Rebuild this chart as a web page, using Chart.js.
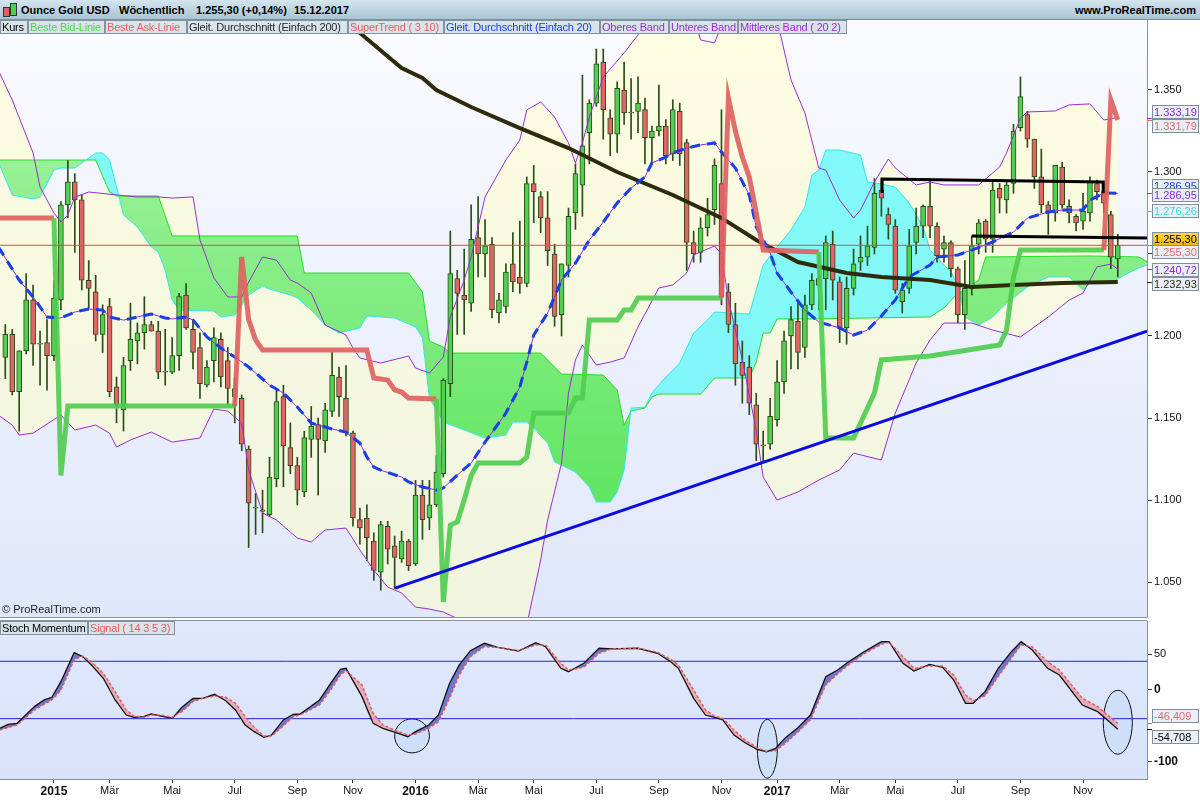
<!DOCTYPE html>
<html>
<head>
<meta charset="utf-8">
<script src="https://cdn.jsdelivr.net/npm/chart.js@4.4.0/dist/chart.umd.min.js"></script>
<style>
  body { margin: 0; width: 1200px; height: 800px; overflow: hidden; background: #fff; position: relative;
         font-family: "Liberation Sans", Arial, sans-serif; }
  #hdr { position: absolute; left: 0; top: 0; width: 1200px; height: 19px; border-bottom: 1px solid #7c8d98;
         background: linear-gradient(#d4e5ee, #a8c5d4); font-weight: bold; font-size: 11px; color: #000; }
  #hdr span { position: absolute; top: 4px; white-space: nowrap; }
  .ic { position: absolute; top: 3px; width: 5px; border: 1px solid #333; }
  .lg { position: absolute; height: 14px; line-height: 12px; font-size: 11px; letter-spacing: -0.2px; padding-left: 1px;
        box-sizing: border-box; border: 1px solid #83939e; background: rgba(214, 226, 233, 0.95);
        white-space: nowrap; overflow: hidden; }
  canvas { position: absolute; left: 0; }
  .hl { position: absolute; left: 0; width: 1147px; height: 1px; background: #8494a0; }
  #copy { position: absolute; left: 2px; top: 603px; font-size: 11px; color: #222; }
</style>
</head>
<body>
<div id="hdr">
  <div class="ic" style="left:3px;height:8px;top:7px;background:#e06060"></div>
  <div class="ic" style="left:10px;height:11px;top:3px;background:#4fd04f"></div>
  <span style="left:21px">Ounce Gold USD</span>
  <span style="left:119px">Wöchentlich</span>
  <span style="left:196px">1.255,30 (+0,14%)</span>
  <span style="left:294px">15.12.2017</span>
  <span style="right:4px">www.ProRealTime.com</span>
</div>
<canvas id="main" width="1200" height="598" style="top:20px"></canvas>
<div class="hl" style="top:617px"></div>
<div class="hl" style="top:620px"></div>
<canvas id="lower" width="1200" height="182" style="top:618px"></canvas>
<div id="copy">© ProRealTime.com</div>

<div class="lg" style="left:0;top:20px;width:28px;color:#000">Kurs</div>
<div class="lg" style="left:28px;top:20px;width:77px;color:#4fd94f">Beste Bid-Linie</div>
<div class="lg" style="left:105px;top:20px;width:82px;color:#e86060">Beste Ask-Linie</div>
<div class="lg" style="left:187px;top:20px;width:161px;color:#2a2a2a">Gleit. Durchschnitt (Einfach 200)</div>
<div class="lg" style="left:348px;top:20px;width:96px;color:#e86060">SuperTrend ( 3 10)</div>
<div class="lg" style="left:444px;top:20px;width:156px;color:#1b3fe6">Gleit. Durchschnitt (Einfach 20)</div>
<div class="lg" style="left:600px;top:20px;width:69px;color:#9a2fd0">Oberes Band</div>
<div class="lg" style="left:669px;top:20px;width:69px;color:#9a2fd0">Unteres Band</div>
<div class="lg" style="left:738px;top:20px;width:109px;color:#9a2fd0">Mittleres Band ( 20 2)</div>
<div class="lg" style="left:0;top:621px;width:88px;color:#000">Stoch Momentum</div>
<div class="lg" style="left:88px;top:621px;width:87px;color:#e86060">Signal ( 14 3 5 3)</div>

<script>
// weekly candles, week 0 = week of 17.11.2014
const opens = [1187,1201,1166,1191,1222,1195,1196,1188,1222,1280,
  1294,1283,1234,1227,1201,1218,1169,1155,1185,1197,
  1202,1207,1203,1178,1178,1188,1225,1204,1193,1170,
  1185,1198,1185,1168,1162,1131,1095,1093,1091,1113,
  1163,1132,1121,1105,1137,1146,1136,1154,1175,1162,
  1141,1088,1089,1075,1056,1084,1072,1064,1075,1061,
  1103,1089,1097,1116,1171,1235,1225,1220,1260,1250,
  1256,1214,1218,1244,1236,1232,1293,1285,1272,1250,
  1213,1243,1275,1292,1324,1342,1367,1333,1323,1350,
  1336,1337,1338,1321,1325,1328,1311,1337,1318,1257,
  1251,1266,1277,1293,1227,1207,1184,1181,1158,1133,
  1134,1149,1172,1200,1209,1193,1219,1231,1235,1256,
  1233,1205,1229,1245,1248,1254,1289,1274,1267,1221,
  1229,1257,1267,1279,1267,1253,1257,1241,1213,1229,
  1256,1270,1259,1290,1283,1293,1327,1335,1320,1297,
  1280,1275,1303,1279,1273,1270,1275,1293,1288,1274,
  1247];
const highs = [1207,1204,1191,1238,1231,1203,1210,1234,1282,1307,
  1299,1286,1246,1237,1219,1223,1175,1187,1220,1208,
  1224,1209,1209,1204,1199,1226,1232,1210,1202,1185,
  1205,1202,1193,1175,1164,1133,1104,1106,1126,1167,
  1170,1147,1126,1142,1157,1150,1159,1190,1181,1182,
  1142,1095,1097,1080,1087,1087,1078,1081,1076,1112,
  1112,1112,1127,1174,1264,1240,1253,1280,1285,1271,
  1260,1226,1244,1263,1270,1297,1304,1288,1288,1256,
  1244,1278,1305,1359,1344,1375,1375,1338,1355,1367,
  1357,1358,1345,1328,1353,1332,1344,1342,1320,1264,
  1272,1284,1308,1338,1232,1220,1197,1188,1165,1142,
  1162,1185,1203,1218,1220,1225,1238,1250,1261,1264,
  1236,1236,1253,1261,1267,1296,1296,1278,1271,1232,
  1265,1278,1280,1296,1269,1261,1258,1242,1246,1261,
  1271,1271,1295,1293,1294,1329,1358,1337,1320,1314,
  1282,1304,1306,1283,1274,1287,1297,1295,1293,1276,
  1262];
const lows = [1174,1164,1142,1189,1182,1170,1167,1185,1216,1272,
  1251,1228,1217,1197,1190,1163,1147,1142,1179,1183,
  1192,1203,1174,1170,1177,1179,1204,1180,1162,1169,
  1172,1169,1158,1147,1130,1071,1079,1080,1090,1108,
  1108,1116,1097,1102,1126,1103,1129,1151,1151,1139,
  1084,1073,1063,1051,1045,1061,1046,1062,1057,1060,
  1076,1082,1096,1114,1163,1201,1201,1215,1236,1236,
  1211,1208,1214,1227,1226,1230,1269,1263,1243,1206,
  1200,1236,1265,1273,1305,1340,1320,1310,1312,1329,
  1320,1324,1305,1305,1322,1305,1307,1304,1240,1245,
  1245,1261,1268,1219,1202,1170,1159,1152,1124,1124,
  1131,1145,1165,1180,1180,1187,1216,1216,1216,1222,
  1196,1195,1225,1240,1243,1250,1273,1259,1226,1214,
  1226,1250,1260,1260,1245,1245,1236,1208,1204,1225,
  1250,1251,1251,1275,1275,1287,1325,1315,1290,1275,
  1262,1270,1278,1269,1264,1265,1270,1283,1275,1241,
  1236];
const closes = [1201,1166,1191,1222,1195,1195,1188,1223,1280,1294,
  1283,1234,1229,1201,1213,1166,1158,1182,1198,1202,
  1207,1203,1178,1178,1188,1224,1205,1190,1171,1181,
  1199,1175,1168,1163,1134,1098,1095,1094,1114,1160,
  1133,1121,1106,1138,1145,1137,1155,1176,1163,1141,
  1089,1083,1077,1057,1085,1070,1065,1075,1060,1103,
  1088,1097,1117,1173,1238,1226,1222,1259,1250,1255,
  1216,1222,1239,1233,1232,1293,1288,1272,1252,1212,
  1244,1273,1299,1316,1342,1366,1338,1323,1351,1336,
  1336,1342,1321,1325,1328,1310,1338,1311,1257,1250,
  1266,1274,1304,1224,1207,1183,1176,1159,1134,1133,
  1151,1172,1197,1210,1190,1219,1234,1235,1257,1234,
  1205,1229,1244,1248,1255,1287,1284,1268,1228,1228,
  1255,1267,1279,1267,1249,1257,1241,1213,1229,1255,
  1269,1259,1289,1284,1292,1325,1346,1320,1297,1280,
  1276,1304,1280,1275,1269,1276,1294,1288,1281,1248,
  1255.3];

// indicator lines (week, value)
const sma20Weeks = [-1,2,4,6,8,10,12,14,15,17,19,21,23,24,26,27,29,31,33,35,38,40,42,44,47,49,51,52,53,54,57,58,60,62,63,65,67,69,72,74,75,76,78,80,82,84,86,88,90,92,93,95,96,98,100,102,103,105,107,108,110,111,113,115,117,120,122,124,126,128,130,133,134,137,139,142,145,147,150,152,155,156,158,160];
const sma20 = [1254.3,1234.1,1223.8,1211.6,1211,1214.6,1216.5,1215.8,1211.6,1209.7,1211.6,1213.4,1211,1210.4,1211.6,1209.7,1199.4,1192.7,1187.2,1181.1,1170.1,1165.2,1156.7,1146.9,1143.3,1141.4,1134.7,1126.2,1120.1,1118.2,1114,1111,1107.9,1106.1,1107.3,1115.2,1122.5,1135.3,1153,1168.9,1184.1,1200.6,1214,1234.1,1244.5,1258.5,1269.5,1281.1,1290.2,1297,1305.5,1309.1,1311.6,1314.6,1316.5,1317.7,1312.2,1302.4,1286,1266.5,1250.6,1238.4,1226.8,1215.8,1208.5,1204.9,1200.6,1203.6,1212.2,1222,1236,1243.3,1248.2,1249.4,1252.4,1257.3,1263.4,1271.9,1275.6,1276.8,1276.8,1282.9,1287.2,1286.95];

const bbUpperWeeks = [-1,1,4,5,7,8,9,10,12,16,19,22,24,27,28,30,32,34,35,37,39,41,42,44,46,49,50,51,54,58,59,61,63,64,66,67,69,72,74,75,77,79,81,82,83,84,86,89,91,93,97,99,100,102,103,105,108,111,113,115,117,118,120,122,123,125,127,128,131,133,135,140,142,143,144,146,147,151,153,156,158,160];
const bbUpper = [1362,1343.9,1311.6,1290.8,1275,1269.5,1273.8,1284.7,1287.8,1286,1284.8,1284.8,1284.1,1284.8,1258.5,1235.4,1223.8,1223.8,1232.9,1248.2,1246.3,1234.1,1232.3,1226.2,1206.7,1200.6,1192.7,1186.6,1183.5,1187.8,1180.5,1177.4,1187.2,1211.6,1234.1,1248.2,1284.8,1307.3,1319.5,1337.8,1342.7,1333.5,1317.7,1305.5,1317.7,1333.5,1357.9,1372.6,1383.5,1401.8,1408,1395.7,1380.5,1378.7,1389.6,1405,1405,1392.7,1356.1,1336,1302.4,1301.2,1282.9,1271.9,1276.8,1293.9,1307.9,1302.4,1292.1,1293.9,1292.1,1292.1,1299.4,1303,1311.6,1332.9,1336.6,1337.2,1340.9,1341.5,1331.7,1333.19];

const bbLowerWeeks = [-1,1,2,4,8,10,13,15,16,18,21,24,28,30,32,34,35,37,39,42,44,46,49,51,53,55,57,59,61,63,67,71,75,77,78,80,81,82,83,85,87,89,91,94,96,98,99,102,103,104,106,108,109,111,114,117,120,122,126,128,131,133,135,139,142,146,150,153,155,157,159,160];
const bbLower = [1151.8,1145.7,1139.6,1140.8,1151.8,1142.7,1145.7,1140.8,1132.3,1136.6,1141.4,1135.3,1137.8,1155.5,1154.2,1146.9,1118.3,1092.1,1087.8,1076.8,1074.4,1081.7,1082.9,1069.5,1057.3,1046.9,1043.3,1034.7,1033.5,1031.7,1023.8,1014.6,1023.8,1063.4,1087.8,1122.5,1165.2,1185.4,1194.5,1182.3,1184.1,1186.6,1205.5,1229.3,1231.1,1238.4,1249.4,1254.9,1250,1221.9,1185.4,1142.7,1114,1100,1104.9,1112.2,1118.3,1128.6,1124.4,1153,1183.5,1197.6,1207.9,1207.9,1203.6,1199.4,1211.6,1221.9,1226.2,1242.1,1243.9,1240.72];

const spanAWeeks = [-1,13,15,16,22,24,42,43,58,60,61,63,64,77,80,86,88,89,90,92,93,94,100,102,107,108,109,110,111,116,133,135,137,138,140,141,156,163,165];
const spanA = [1307.3,1307.3,1287.8,1285.4,1285.4,1261,1261,1238.4,1238.4,1226.8,1196.9,1193.3,1189.6,1189.6,1176.8,1176.2,1167.1,1145.7,1154.3,1156.1,1162.8,1164.6,1164.6,1174.4,1174.4,1184.1,1201.8,1201.8,1210.4,1210.4,1211.6,1217.1,1226.2,1228,1234.1,1248.2,1248.8,1248.2,1243.3];

const spanBWeeks = [-1,1,4,5,7,8,10,13,14,15,16,17,19,21,22,23,24,25,30,31,33,35,37,38,41,42,44,46,48,51,52,56,59,60,61,63,66,69,72,73,75,76,78,79,82,84,85,87,88,89,90,92,93,95,97,99,101,102,107,108,109,111,113,115,116,117,118,120,123,124,126,128,130,132,133,136,137,138,140,142,144,147,150,153,155,156,159,161,163,165];
const spanB = [1306.1,1286,1283.5,1284.8,1301.2,1302.4,1302.4,1311.6,1311.6,1307.3,1290.8,1273.8,1266.5,1254.3,1251.2,1240.2,1221.9,1215.8,1215.2,1211.6,1212.8,1225,1230.5,1228.6,1225,1223.2,1215.8,1206.7,1201.8,1204.9,1212.2,1211,1205.5,1198.8,1162.2,1147.5,1142.7,1137.8,1139.6,1147.5,1147.5,1143.9,1134.7,1123.2,1117.1,1107.9,1098.8,1098.8,1104.9,1118.3,1156,1156.7,1165.2,1175,1183.5,1201.8,1209.7,1214.6,1213.4,1228,1243.3,1254.3,1264.6,1278.7,1298.2,1301.2,1313.4,1313.4,1310.4,1293.9,1292.7,1290.8,1281.1,1266.5,1252.4,1239,1231.1,1211.6,1206.7,1211.6,1220.1,1229.9,1236,1236,1228,1232.3,1232.3,1237.2,1241.5,1244.5];

const stWeeks = [-1,7,8,9,33,34,35,36,37,52,53,55,56,57,58,62,63,64,65,66,67,68,74,75,76,81,82,83,84,88,89,90,91,103,104,105,106,107,108,109,117,118,122,125,126,133,143,144,145,146,158,159,160];
const superTrend = [1271.9,1271.9,1115,1157.3,1157.3,1248.2,1210,1197.6,1191.5,1191.5,1174.4,1173.2,1167.1,1165.8,1162.2,1161.6,1037.8,1084.7,1086.6,1100,1115,1122.5,1122.5,1126.2,1153,1153,1162.2,1162.2,1209.7,1209.7,1215.8,1215.8,1223.2,1223.2,1345.1,1325,1309.1,1297,1275,1252.4,1251.2,1137.8,1137.8,1165.2,1185.4,1187.8,1194.5,1203.6,1236,1252.4,1252.4,1343.9,1331.79];
const stSide = ['d','d','u','u','u','d','d','d','d','d','d','d','d','d','d','d','u','u','u','u','u','u','u','u','u','u','u','u','u','u','u','u','u','u','d','d','d','d','d','d','d','u','u','u','u','u','u','u','u','u','u','d','d'];

const sma200Weeks = [45,51,57,60,62,67,74,81,88,96,103,108,114,121,126,133,139,145,152,160];
const sma200 = [1420,1384.8,1363.4,1357.3,1350,1339.6,1326.8,1314.6,1300,1286,1272,1258.5,1245.1,1238.4,1236,1234.1,1229.9,1231.1,1232.3,1232.93];

// drawn trend lines
const supportWeeks = [56.05, 164.2];
const support = [1046.3, 1203];
const resistWeeks = [126.1, 126.1, 157.9, 157.9];
const resist = [1287.2, 1295.7, 1293.9, 1287.2];
const neckWeeks = [139, 164.2];
const neck = [1261, 1259.7];
const lastPrice = 1255.3;

// stochastic momentum index panel
const smiWeeks = [-0.8,0.4,1.7,4.2,5.6,6.7,8.0,9.9,11.1,12.4,14.1,15.8,17.4,18.5,19.9,21.0,22.4,24.0,25.4,27.0,28.4,30.1,31.7,33.1,34.5,35.8,37.2,38.3,40.0,41.4,42.4,45.2,46.8,48.2,49.0,51.3,52.9,54.3,56.2,57.9,59.0,60.9,62.3,63.9,65.3,66.9,68.9,70.8,73.8,76.3,77.7,79.9,81.0,83.2,85.4,87.2,91.0,93.8,95.7,96.8,99.0,100.7,102.0,103.2,104.8,106.4,108.1,109.5,110.8,112.2,113.9,115.8,118.0,119.7,121.3,123.5,126.0,127.1,129.1,130.7,132.9,134.8,136.4,138.1,139.2,140.9,142.8,144.7,146.1,147.7,149.9,151.6,154.9,157.1,158.5,160.0];
const smi = [-53.5,-47.9,-46.5,-23.2,-13.9,-10.2,11.6,52.1,46.5,34.9,16.3,-13.9,-34.9,-38.1,-37.2,-33.5,-36.3,-39.5,-24.2,-11.6,-11.6,-6,-14.9,-27.9,-48.8,-58.1,-66,-62.8,-41.8,-33.9,-33.5,-13.9,9.3,28.9,30.2,-9.3,-46.5,-53.5,-59.5,-65.1,-58.1,-48.8,-34.9,9.3,34.9,54.8,65.1,59.5,54.4,66,60.4,30.2,25.5,37.2,58.2,57.2,58.2,51.2,39.5,30.2,-11.6,-34.9,-38.1,-41.8,-62.8,-73.5,-82.7,-86.1,-81.3,-66.5,-53.5,-34.9,18.5,27.9,39.5,53.4,67.4,67.4,37.2,26.5,35.8,31.7,13.9,-18.6,-18.6,-2.3,30.2,53.4,67.4,55.8,30.2,20.9,-20.9,-30.2,-41.8,-54.708];
const smiSignal = [-55.8,-52.5,-48.8,-27.9,-20,-14,-0.5,41.8,47.4,39.5,23.2,-2.3,-27.9,-36.3,-38.1,-34.9,-34.9,-38.1,-30.2,-16.3,-11.6,-8.4,-10.2,-18.6,-37.2,-52.1,-64.2,-64.2,-50.2,-37.2,-34.9,-20.9,0,20.9,27,7,-32.5,-48.8,-56.7,-62.8,-61.4,-53.5,-44.2,-11.6,20.9,46.5,60.4,59.5,54.8,62.8,62.8,37.2,27.9,31.6,51.2,57.2,58.2,52.6,42.8,34.9,0,-27.9,-36.3,-39.5,-55.8,-69.7,-80,-86.1,-84.7,-74.4,-59.5,-41.8,7,22.3,34.9,50.2,63.7,66.5,46.5,30.2,33.5,33.5,20.9,-7,-14.9,-8.4,18.6,44.2,62.8,60.4,39.5,27.9,-11.6,-23.2,-34.9,-46.409];
const smiLevels = [40, -40];

// axis ticks and right-hand value boxes
const priceTicks = [1050, 1100, 1150, 1200, 1250, 1300, 1350];
const smiTicks = [50, 0, -100];
const boxValues = [1333.19, 1331.79, 1286.95, 1286.95, 1276.26, 1255.30, 1255.30, 1240.72, 1232.93];
const boxColors = ['#8a2be2', '#e46a6a', '#1b3fe6', '#8a2be2', '#2fe0e6', '#000', '#e46a6a', '#8a2be2', '#2e2a0c'];
const boxNudge = [-6, 6, -7, 2, 0, -6, 7, 1, 2];
const smiBoxValues = [-46.409, -54.708];
const smiBoxColors = ['#e46a6a', '#000'];
const smiBoxNudge = [-7, 8];
const circledSpots = [ { week: 58.5, value: -64, rw: 2.5, rv: 23.7 },
                       { week: 109.6, value: -82, rw: 1.44, rv: 41 },
                       { week: 160, value: -45, rw: 2.09, rv: 44.6 } ];

const X_MIN = -0.76, X_MAX = 164.2;
const firstWeek = Date.UTC(2014, 10, 17);
const monthNames = ['', '', 'Mär', '', 'Mai', '', 'Jul', '', 'Sep', '', 'Nov', ''];
const monthTicks = [];
for (let i = 1; i < closes.length; i++) {
  const d = new Date(firstWeek + i * 7 * 864e5), p = new Date(firstWeek + (i - 1) * 7 * 864e5);
  const m = d.getUTCMonth();
  if (m !== p.getUTCMonth() && m % 2 === 0) {
    monthTicks.push({ week: i, label: m === 0 ? String(d.getUTCFullYear()) : monthNames[m], year: m === 0 });
  }
}

function fmtDE(v, d) {
  const s = Math.abs(v).toFixed(d).split('.');
  const i = s[0].replace(/\B(?=(\d{3})+(?!\d))/g, '.');
  return (v < 0 ? '-' : '') + i + (s[1] ? ',' + s[1] : '');
}
const pts = (xs, ys) => xs.map((x, i) => ({ x: x, y: ys[i] }));

Chart.defaults.font.family = '"Liberation Sans", Arial, sans-serif';
Chart.defaults.color = '#111';

function bgPlugin(top, bottom) {
  return { id: 'bg', beforeDraw(c) {
    const { ctx, chartArea: a } = c;
    const g = ctx.createLinearGradient(0, a.top, 0, a.bottom);
    g.addColorStop(0, top); g.addColorStop(1, bottom);
    ctx.save(); ctx.fillStyle = g; ctx.fillRect(a.left, a.top, a.right - a.left, a.bottom - a.top); ctx.restore();
  } };
}

function boxPlugin(values, colors, nudges, digits) {
  return { id: 'boxes', afterDraw(c) {
    const ctx = c.ctx, y = c.scales.y, x0 = c.chartArea.right;
    ctx.save();
    ctx.font = '11px "Liberation Sans", Arial, sans-serif';
    ctx.textBaseline = 'middle';
    values.forEach((v, i) => {
      const py = y.getPixelForValue(v);
      ctx.strokeStyle = colors[i]; ctx.lineWidth = 1;
      ctx.beginPath(); ctx.moveTo(x0, Math.round(py) + 0.5); ctx.lineTo(x0 + 5, Math.round(py) + 0.5); ctx.stroke();
    });
    values.forEach((v, i) => {
      const cy = Math.round(y.getPixelForValue(v) + nudges[i]);
      const top = cy - 7;
      if (colors[i] === '#000' && digits === 2) {
        const g = ctx.createLinearGradient(0, top, 0, top + 14);
        g.addColorStop(0, '#ffd84a'); g.addColorStop(1, '#f2b400');
        ctx.fillStyle = g;
      } else {
        ctx.fillStyle = '#eaeff7';
      }
      ctx.fillRect(x0 + 5, top, 47, 14);
      ctx.strokeStyle = '#7f8f9b';
      ctx.strokeRect(x0 + 5.5, top + 0.5, 46, 13);
      ctx.fillStyle = colors[i];
      ctx.fillText(fmtDE(v, digits), x0 + 7, cy + 0.5);
    });
    ctx.restore();
  } };
}

// ---------- main price panel ----------
const mainCanvas = document.getElementById('main');
const mctx = mainCanvas.getContext('2d');
const greenCloud = mctx.createLinearGradient(0, 0, 0, 597);
greenCloud.addColorStop(0, 'rgba(170,245,170,0.95)');
greenCloud.addColorStop(1, 'rgba(70,225,70,0.95)');
const cyanCloud = 'rgba(110,248,250,0.85)';

const weeks = closes.map((_, i) => i);
const wickData = weeks.map(i => ({ x: i, y: [lows[i], highs[i]] }));
const bodyData = weeks.map(i => ({ x: i, y: [opens[i], closes[i]] }));
const bodyColors = weeks.map(i => closes[i] >= opens[i] ? '#4fd04f' : '#e26464');

const purple = '#9a2fd0';
const mainSets = [
  { data: pts(bbUpperWeeks, bbUpper), borderWidth: 0, fill: { target: 1 }, backgroundColor: 'rgba(255,255,196,0.5)', order: 100 },
  { data: pts(bbLowerWeeks, bbLower), borderWidth: 0, fill: false, order: 99 },
  { data: pts(spanAWeeks, spanA), borderColor: '#22e022', borderWidth: 1,
    fill: { target: 3, above: greenCloud, below: cyanCloud }, order: 90 },
  { data: pts(spanBWeeks, spanB), borderColor: '#33e6ec', borderWidth: 1, fill: false, order: 89 },
  { type: 'bar', data: wickData, backgroundColor: '#2a4d18', barThickness: 1, grouped: false, order: 80 },
  { type: 'bar', data: bodyData, backgroundColor: bodyColors, borderColor: '#2a4d18', borderWidth: 1,
    borderSkipped: false, barThickness: 5, minBarLength: 1, grouped: false, order: 79 },
  { data: pts(bbUpperWeeks, bbUpper), borderColor: purple, borderWidth: 1, order: 70 },
  { data: pts(bbLowerWeeks, bbLower), borderColor: purple, borderWidth: 1, order: 70 },
  { data: pts(sma20Weeks, sma20), borderColor: purple, borderWidth: 1, order: 70 },
  { data: pts(sma200Weeks, sma200), borderColor: '#2e2a0c', borderWidth: 4, order: 62 },
  { data: pts(sma20Weeks, sma20), borderColor: '#1b3fe6', borderWidth: 3, borderDash: [10, 7], order: 60 },
  { data: pts(stWeeks, superTrend), borderWidth: 5, borderColor: '#e06666',
    segment: { borderColor: s => stSide[s.p1DataIndex] === 'd' ? 'rgba(224,98,98,0.92)' : 'rgba(80,204,80,0.92)' }, order: 55 },
  { data: pts(supportWeeks, support), borderColor: '#0a0ae6', borderWidth: 3, order: 40 },
  { data: pts(resistWeeks, resist), borderColor: '#000', borderWidth: 3, order: 40 },
  { data: pts(neckWeeks, neck), borderColor: '#000', borderWidth: 3, order: 40 },
  { data: [{ x: X_MIN, y: lastPrice }, { x: X_MAX, y: lastPrice }], borderColor: '#e04848', borderWidth: 1, order: 30 }
];
mainSets.forEach(d => { if (!d.type) { d.type = 'line'; d.pointRadius = 0; d.tension = 0; } d.clip = 0; });

new Chart(mainCanvas, {
  type: 'line',
  data: { datasets: mainSets },
  options: {
    responsive: false, animation: false, devicePixelRatio: 1, events: [],
    layout: { padding: { top: 0, bottom: 1, left: 0, right: 0 } },
    plugins: { legend: { display: false }, tooltip: { enabled: false } },
    scales: {
      x: { type: 'linear', min: X_MIN, max: X_MAX, offset: false, grid: { offset: false }, display: false },
      y: { type: 'linear', position: 'right', min: 1028.66, max: 1392.68, beginAtZero: false,
        afterBuildTicks: s => { s.ticks = priceTicks.map(v => ({ value: v })); },
        afterFit: s => { s.width = 53; s.paddingTop = 0; s.paddingBottom = 0; },
        border: { color: '#8494a0' },
        grid: { drawOnChartArea: false, tickLength: 5, tickColor: '#333' },
        ticks: { padding: 2, font: { size: 11 }, color: '#111', callback: v => fmtDE(v, 0) } }
    }
  },
  plugins: [bgPlugin('#fafbfe', '#e0e7fb'), boxPlugin(boxValues, boxColors, boxNudge, 2)]
});

// ---------- stochastic momentum panel ----------
const ellipsePlugin = { id: 'circles', beforeDatasetsDraw(c) {
  const { ctx, scales: { x, y } } = c;
  ctx.save();
  circledSpots.forEach(e => {
    const cx = x.getPixelForValue(e.week), cy = y.getPixelForValue(e.value);
    const rx = x.getPixelForValue(e.week + e.rw) - cx, ry = cy - y.getPixelForValue(e.value + e.rv);
    ctx.beginPath(); ctx.ellipse(cx, cy, rx, ry, 0, 0, Math.PI * 2);
    ctx.fillStyle = 'rgba(206,222,250,0.95)'; ctx.fill();
    ctx.strokeStyle = '#111'; ctx.lineWidth = 1; ctx.stroke();
  });
  ctx.restore();
} };

const lowerSets = [
  { data: pts(smiWeeks, smi), borderColor: '#111', borderWidth: 1.3,
    fill: { target: 1, above: 'rgba(98,102,200,0.88)', below: 'rgba(232,162,174,0.88)' }, order: 2 },
  { data: pts(smiWeeks, smiSignal), borderColor: '#e05a5a', borderWidth: 1.4, borderDash: [3, 2], order: 1 },
  { data: [{ x: X_MIN, y: smiLevels[0] }, { x: X_MAX, y: smiLevels[0] }], borderColor: '#2424e0', borderWidth: 1, order: 10 },
  { data: [{ x: X_MIN, y: smiLevels[1] }, { x: X_MAX, y: smiLevels[1] }], borderColor: '#2424e0', borderWidth: 1, order: 10 }
];
lowerSets.forEach(d => { d.type = 'line'; d.pointRadius = 0; d.tension = 0; d.clip = 0; });

new Chart(document.getElementById('lower'), {
  type: 'line',
  data: { datasets: lowerSets },
  options: {
    responsive: false, animation: false, devicePixelRatio: 1, events: [],
    layout: { padding: { top: 3, bottom: 0, left: 0, right: 0 } },
    plugins: { legend: { display: false }, tooltip: { enabled: false } },
    scales: {
      x: { type: 'linear', min: X_MIN, max: X_MAX, position: 'bottom', offset: false,
        afterBuildTicks: s => { s.ticks = monthTicks.map(t => ({ value: t.week })); },
        afterFit: s => { s.height = 21; s.paddingLeft = 0; s.paddingRight = 0; },
        border: { color: '#8494a0' },
        grid: { drawOnChartArea: false, tickLength: 4, tickColor: '#333' },
        ticks: { autoSkip: false, maxRotation: 0, padding: 1, color: '#111',
          callback: (v, i) => monthTicks[i] ? monthTicks[i].label : '',
          font: c => (monthTicks[c.index] && monthTicks[c.index].year) ? { size: 12, weight: 'bold' } : { size: 11 } } },
      y: { type: 'linear', position: 'right', min: -124.13, max: 96.2,
        afterBuildTicks: s => { s.ticks = smiTicks.map(v => ({ value: v })); },
        afterFit: s => { s.width = 53; s.paddingTop = 0; s.paddingBottom = 0; },
        border: { color: '#8494a0' },
        grid: { drawOnChartArea: false, tickLength: 5, tickColor: '#333' },
        ticks: { padding: 2, color: '#111', callback: v => fmtDE(v, 0),
          font: c => (c.tick && c.tick.value % 100 === 0) ? { size: 12, weight: 'bold' } : { size: 11 } } }
    }
  },
  plugins: [bgPlugin('#e1e8fc', '#d9e2fa'), ellipsePlugin, boxPlugin(smiBoxValues, smiBoxColors, smiBoxNudge, 3)]
});
</script>
</body>
</html>
